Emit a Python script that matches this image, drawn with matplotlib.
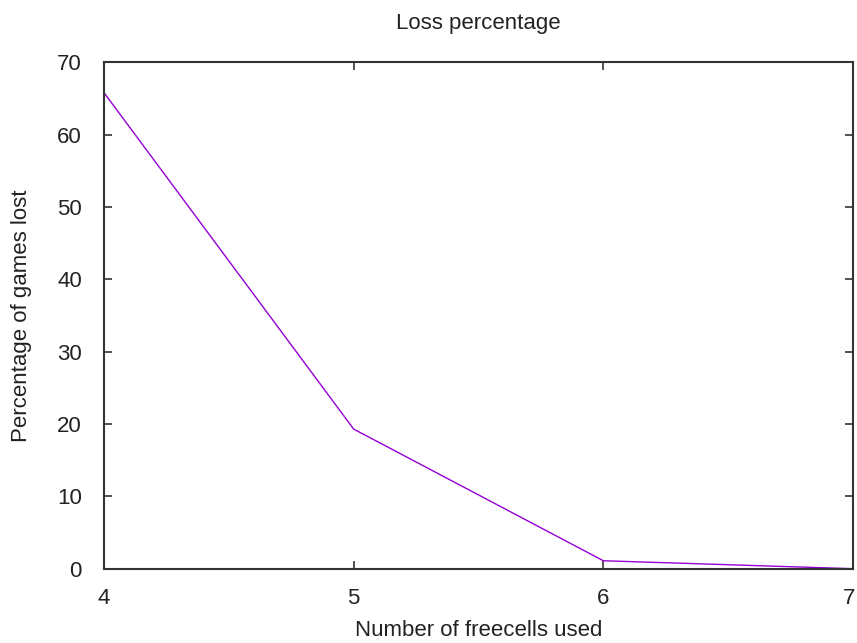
import matplotlib
matplotlib.use("Agg")
import matplotlib.pyplot as plt
import matplotlib.transforms as mtransforms

freecells = [4, 5, 6, 7]
loss_pct = [65.8, 19.3, 1.1, 0.0]
x_ticks = [4, 5, 6, 7]
y_ticks = [0, 10, 20, 30, 40, 50, 60, 70]

plt.rcParams['font.family'] = ['Liberation Sans', 'DejaVu Sans']
fig = plt.figure(figsize=(8.57, 6.43), dpi=100)
ax = fig.add_axes([104/857, 1-568.7/643, (853-104)/857, (568.7-62.3)/643])

ax.plot(freecells, loss_pct, color='#9400D3', lw=1.0, clip_on=False)
ax.set_xlim(4, 7)
ax.set_ylim(0, 70)
ax.set_xticks(x_ticks)
ax.set_yticks(y_ticks)
ax.tick_params(direction='in', length=6, width=1.2, color='#333333',
               top=True, right=True, labelsize=16, labelcolor='#222222')
ax.tick_params(axis='x', pad=14)
ax.tick_params(axis='y', pad=16)
for s in ax.spines.values():
    s.set_linewidth(1.5)
    s.set_color('#333333')

ax.set_title('Loss percentage', fontsize=16, color='#222222', pad=24)
ax.set_xlabel('Number of freecells used', fontsize=16, color='#222222', labelpad=8)
ax.set_ylabel('Percentage of games lost', fontsize=16, color='#222222', labelpad=18)

fig.canvas.draw()
last = ax.get_xticklabels()[-1]
last.set_transform(last.get_transform() + mtransforms.ScaledTranslation(-4/100, 0, fig.dpi_scale_trans))

fig.savefig('out.png', dpi=100)
